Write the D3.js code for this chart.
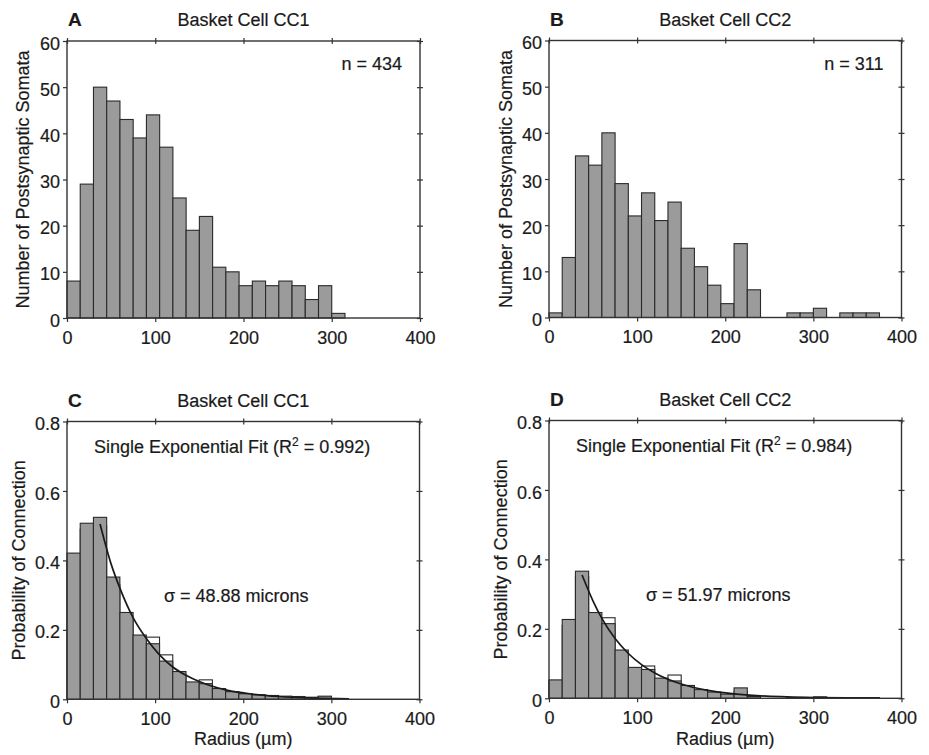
<!DOCTYPE html>
<html>
<head>
<meta charset="utf-8">
<script src="https://cdn.jsdelivr.net/npm/d3@7"></script>
<style>
  body { margin: 0; background: #fff; }
  svg text { font-family: "Liberation Sans", Arial, Helvetica, sans-serif; fill: #1a1a1a; stroke: #1a1a1a; stroke-width: 0.2; }
  .axis text { font-size: 18px; }
  .axis path { display: none; }
  .axis line { stroke: #333; stroke-width: 1.2; }
</style>
</head>
<body>
<script>
// Basket cell histograms (A, B) and connection probability (C, D)

var binWidth = 15;
var xTicks = [0, 100, 200, 300, 400];
var countTicks = [0, 10, 20, 30, 40, 50, 60];
var probTicks = [0, 0.2, 0.4, 0.6, 0.8];

// A: somata per 15 um bin, CC1
var countsCC1 = [8, 29, 50, 47, 43, 39, 44, 37, 26, 19, 22, 11, 10, 7, 8, 7, 8, 7, 4, 7, 1];
// B: somata per 15 um bin, CC2
var countsCC2 = [1, 13, 35, 33, 40, 29, 22, 27, 21, 25, 15, 11, 7, 3, 16, 6, 0, 0, 1, 1, 2, 0, 1, 1, 1];

// C: probability of connection, CC1 (grey bars and open bars)
var probCC1 = [0.421, 0.507, 0.524, 0.352, 0.25, 0.185, 0.16, 0.11, 0.08, 0.05, 0.045, 0.031, 0.022, 0.016, 0.013, 0.011, 0.009, 0.008, 0.006, 0.009, 0.002];
var openCC1 = [0.40, 0.49, 0.50, 0.33, 0.23, 0.17, 0.179, 0.128, 0.07, 0.045, 0.056, 0.028, 0.02, 0.014, 0.011, 0.009, 0.008, 0.006, 0.005, 0.007, 0.002];
// D: probability of connection, CC2
var probCC2 = [0.053, 0.227, 0.366, 0.247, 0.215, 0.139, 0.089, 0.083, 0.058, 0.05, 0.037, 0.025, 0.018, 0.012, 0.03, 0.005, 0, 0, 0.002, 0.002, 0.004, 0, 0.002, 0.002, 0.002];
var openCC2 = [0.05, 0.21, 0.35, 0.23, 0.232, 0.13, 0.085, 0.093, 0.05, 0.067, 0.035, 0.022, 0.015, 0.01, 0.02, 0.004, 0, 0, 0.002, 0.002, 0.003, 0, 0.002, 0.002, 0.002];

// exponential fit curves [radius, probability]
var fitCC1 = [[37.5, 0.505], [50, 0.39], [60, 0.32], [75, 0.235], [90, 0.175], [105, 0.128], [120, 0.093],
  [135, 0.069], [150, 0.051], [180, 0.027], [210, 0.015], [240, 0.008], [280, 0.0035], [320, 0.0016]];
var fitCC2 = [[37.5, 0.355], [50, 0.28], [60, 0.23], [75, 0.172], [90, 0.129], [105, 0.097], [120, 0.073],
  [150, 0.041], [180, 0.023], [210, 0.013], [240, 0.007], [300, 0.0023], [375, 0.0005]];

var panels = [
  { letter: 'A', title: 'Basket Cell CC1', box: [67, 420, 41, 318], yMax: 60, yTicks: countTicks,
    yLabel: 'Number of Postsynaptic Somata', yLabelDx: -38, filled: countsCC1, nText: 'n = 434' },
  { letter: 'B', title: 'Basket Cell CC2', box: [549, 901.5, 40.5, 317.5], yMax: 60, yTicks: countTicks,
    yLabel: 'Number of Postsynaptic Somata', yLabelDx: -37.5, filled: countsCC2, nText: 'n = 311' },
  { letter: 'C', title: 'Basket Cell CC1', box: [67, 419.5, 421.5, 699.3], yMax: 0.8, yTicks: probTicks,
    yLabel: 'Probability of Connection', yLabelDx: -42, filled: probCC1, open: openCC1, fit: fitCC1,
    r2: '0.992', sigma: '48.88' },
  { letter: 'D', title: 'Basket Cell CC2', box: [549, 901.5, 420.5, 698.3], yMax: 0.8, yTicks: probTicks,
    yLabel: 'Probability of Connection', yLabelDx: -42.5, filled: probCC2, open: openCC2, fit: fitCC2,
    r2: '0.984', sigma: '51.97' }
];

var svg = d3.select('body').append('svg')
  .attr('width', 929)
  .attr('height', 755);

svg.append('rect').attr('width', 929).attr('height', 755).attr('fill', '#fff');

var fmtProb = function(d) { return d === 0 ? '0' : d3.format('.1f')(d); };

// keep the bin index with each value, drop empty bins
function toBins(values) {
  return values.map(function(v, i) { return { i: i, v: v }; })
    .filter(function(d) { return d.v > 0; });
}

function drawBars(g, bins, cls, x, y, fill) {
  g.selectAll('.' + cls)
    .data(bins)
    .enter().append('rect')
    .attr('class', cls)
    .attr('x', function(d) { return x(d.i * binWidth); })
    .attr('width', function(d) { return x((d.i + 1) * binWidth) - x(d.i * binWidth); })
    .attr('y', function(d) { return y(d.v); })
    .attr('height', function(d) { return y(0) - y(d.v); })
    .attr('fill', fill)
    .attr('stroke', '#2a2a2a')
    .attr('stroke-width', 1.1);
}

panels.forEach(function(p) {
  var left = p.box[0], right = p.box[1], top = p.box[2], bottom = p.box[3];
  var x = d3.scaleLinear().domain([0, 400]).range([left, right]);
  var y = d3.scaleLinear().domain([0, p.yMax]).range([bottom, top]);
  var isProb = p.yMax < 1;
  var g = svg.append('g');

  // open bars first, grey bars drawn on top of them
  if (p.open) drawBars(g, toBins(p.open), 'open-bar', x, y, '#fff');
  drawBars(g, toBins(p.filled), 'bar', x, y, '#9b9b9b');

  if (p.fit) {
    var line = d3.line()
      .x(function(d) { return x(d[0]); })
      .y(function(d) { return y(d[1]); })
      .curve(d3.curveMonotoneX);
    g.append('path')
      .datum(p.fit)
      .attr('d', line)
      .attr('fill', 'none')
      .attr('stroke', '#1a1a1a')
      .attr('stroke-width', 1.7);
  }

  // frame
  g.append('rect')
    .attr('x', left).attr('y', top)
    .attr('width', right - left).attr('height', bottom - top)
    .attr('fill', 'none')
    .attr('stroke', '#333')
    .attr('stroke-width', 1.4);

  // axes
  g.append('g')
    .attr('class', 'axis')
    .attr('transform', 'translate(0,' + bottom + ')')
    .call(d3.axisBottom(x).tickValues(xTicks).tickSize(4).tickPadding(9).tickFormat(d3.format('d')));

  g.append('g')
    .attr('class', 'axis')
    .attr('transform', 'translate(' + left + ',0)')
    .call(d3.axisLeft(y).tickValues(p.yTicks).tickSize(4).tickPadding(3)
      .tickFormat(isProb ? fmtProb : d3.format('d')))
    .selectAll('text').attr('dy', '0.45em');

  g.append('g')
    .attr('class', 'axis')
    .attr('transform', 'translate(0,' + (top + 3) + ')')
    .call(d3.axisTop(x).tickValues(xTicks).tickSize(6).tickFormat(''));

  g.append('g')
    .attr('class', 'axis')
    .attr('transform', 'translate(' + (right - 3) + ',0)')
    .call(d3.axisRight(y).tickValues(p.yTicks).tickSize(6).tickFormat(''));

  // titles and labels
  g.append('text')
    .attr('x', left + 1)
    .attr('y', top - 15)
    .style('font-size', '19px')
    .style('font-weight', 'bold')
    .text(p.letter);

  g.append('text')
    .attr('x', (left + right) / 2)
    .attr('y', top - 15)
    .attr('text-anchor', 'middle')
    .style('font-size', '18px')
    .text(p.title);

  g.append('text')
    .attr('transform', 'translate(' + (left + p.yLabelDx) + ',' + ((top + bottom) / 2) + ') rotate(-90)')
    .attr('text-anchor', 'middle')
    .style('font-size', '18px')
    .text(p.yLabel);

  if (p.nText) {
    g.append('text')
      .attr('x', right - 18)
      .attr('y', top + 29)
      .attr('text-anchor', 'end')
      .style('font-size', '18px')
      .text(p.nText);
  }

  if (p.r2) {
    var fitLabel = g.append('text')
      .attr('x', left + 27)
      .attr('y', top + 31.5)
      .style('font-size', '18px');
    fitLabel.append('tspan').text('Single Exponential Fit (R');
    fitLabel.append('tspan').attr('dy', -7).style('font-size', '12px').text('2');
    fitLabel.append('tspan').attr('dy', 7).text(' = ' + p.r2 + ')');

    g.append('text')
      .attr('x', x(110))
      .attr('y', y(0.28))
      .style('font-size', '18px')
      .text('\u03c3 = ' + p.sigma + ' microns');

    g.append('text')
      .attr('x', (left + right) / 2)
      .attr('y', 745)
      .attr('text-anchor', 'middle')
      .style('font-size', '18px')
      .text('Radius (\u00b5m)');
  }
});
</script>
</body>
</html>
